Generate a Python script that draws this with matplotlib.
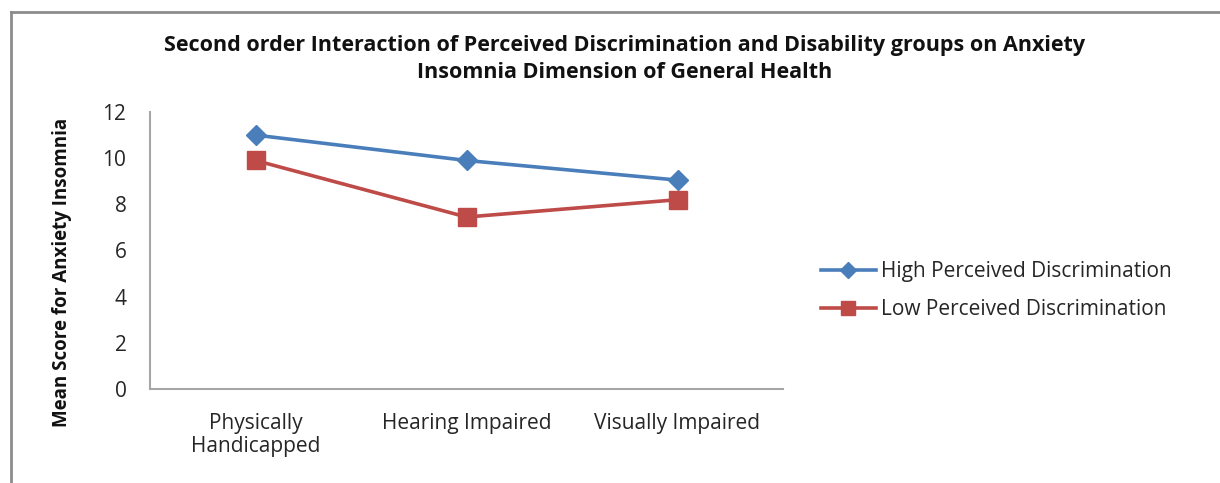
import matplotlib
matplotlib.use("Agg")
import matplotlib.pyplot as plt
from matplotlib import font_manager

# Data
categories = ["Physically\nHandicapped", "Hearing Impaired", "Visually Impaired"]
high_pd = [11.0, 9.9, 9.05]
low_pd = [9.9, 7.45, 8.2]
series_names = ["High Perceived Discrimination", "Low Perceived Discrimination"]
y_ticks = [0, 2, 4, 6, 8, 10, 12]

title = ("Second order Interaction of Perceived Discrimination and Disability groups on Anxiety\n"
         "Insomnia Dimension of General Health")
y_label = "Mean Score for Anxiety Insomnia"

available = {f.name for f in font_manager.fontManager.ttflist}
body = "Open Sans" if "Open Sans" in available else "DejaVu Sans"

fig = plt.figure(figsize=(12.2, 4.83), dpi=100)
fig.patch.set_facecolor("white")

# outer frame (open on right and bottom)
fig.add_artist(plt.Line2D([11 / 1220, 11 / 1220], [0, 1 - 12 / 483], transform=fig.transFigure,
                          color="#8c8c8c", lw=2))
fig.add_artist(plt.Line2D([11 / 1220, 1], [1 - 12 / 483, 1 - 12 / 483], transform=fig.transFigure,
                          color="#8c8c8c", lw=2))

ax = fig.add_axes([150 / 1220, 1 - 389 / 483, (783 - 150) / 1220, (389 - 112) / 483])
x = list(range(len(categories)))
blue = "#4a7ebb"
red = "#be4b48"
ax.plot(x, high_pd, color=blue, lw=2.6, marker="D", markersize=10.5,
        markeredgecolor=blue, label=series_names[0])
ax.plot(x, low_pd, color=red, lw=2.6, marker="s", markersize=13.5,
        markeredgecolor=red, label=series_names[1])

ax.set_xlim(-0.5, 2.5)
ax.set_ylim(0, 12)
ax.set_yticks(y_ticks)
ax.set_xticks(x)
ax.set_xticklabels(categories, fontfamily=body, fontsize=15, color="#262626",
                   linespacing=1.15)
ax.set_yticklabels([str(v) for v in y_ticks], fontfamily=body, fontsize=15, color="#262626")
ax.tick_params(axis="both", length=0)
ax.tick_params(axis="y", pad=17)
ax.tick_params(axis="x", pad=17)
for s in ["top", "right"]:
    ax.spines[s].set_visible(False)
for s in ["left", "bottom"]:
    ax.spines[s].set_color("#a6a6a6")
    ax.spines[s].set_linewidth(1.5)

fig.text(625 / 1220, 1 - 59 / 483, title, ha="center", va="center",
         fontfamily=body, fontweight="bold", fontsize=15.5, linespacing=1.4, color="#111111")
fig.text(62 / 1220, 1 - 272 / 483, y_label, ha="center", va="center", rotation=90,
         fontfamily=body, fontweight="bold", fontsize=13.5, color="#111111")

leg = fig.legend(loc="upper left", bbox_to_anchor=(813 / 1220, 1 - 253 / 483),
                 frameon=False, prop={"family": body, "size": 15}, markerscale=0.75,
                 handlelength=2.6, handletextpad=0.25, labelspacing=0.8, borderaxespad=0)
for t in leg.get_texts():
    t.set_color("#262626")

fig.savefig("out.png", dpi=100, facecolor="white")
